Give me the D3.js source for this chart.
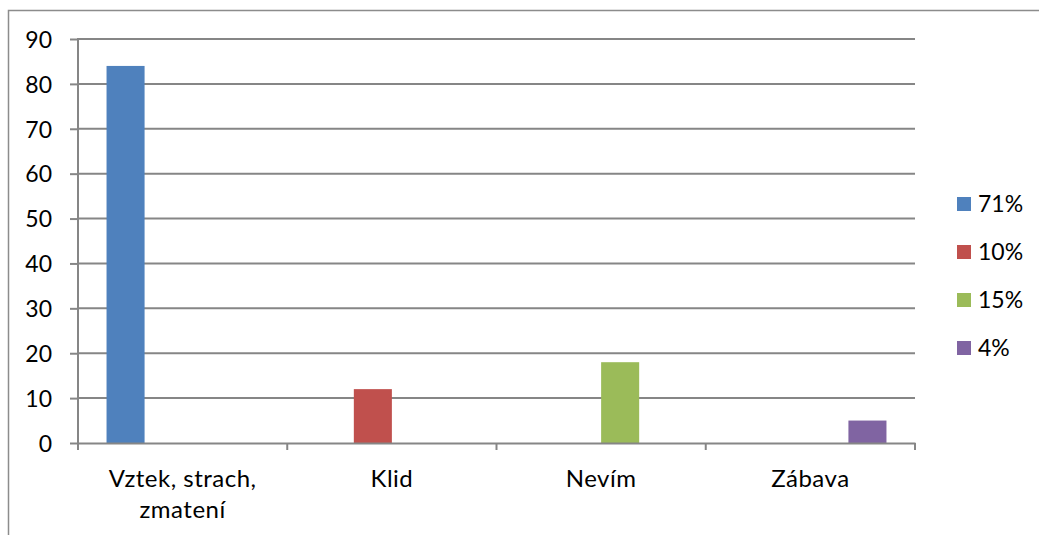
<!DOCTYPE html>
<html>
    <head>
        <meta charset="utf-8">
        <script type="text/javascript" src="https://d3js.org/d3.v7.min.js"></script>
        <style>
            body { margin: 0; background: #fff; }
            text { font-family: Lato, "Open Sans", sans-serif; fill: #000; }
        </style>
    </head>
    <body>
        <svg width="1039" height="535"></svg>
        <script type="text/javascript">
            // chart data
            const categories = ["Vztek, strach, zmatení", "Klid", "Nevím", "Zábava"];
            const seriesNames = ["71%", "10%", "15%", "4%"];
            // each series only has a value in one category
            const seriesValues = [
                [84, null, null, null],
                [null, 12, null, null],
                [null, null, 18, null],
                [null, null, null, 5]
            ];
            const yTicks = [0, 10, 20, 30, 40, 50, 60, 70, 80, 90];
            const colors = ["#4F81BD", "#C0504D", "#9BBB59", "#8064A2"];

            const svg = d3.select("svg");
            const plotLeft = 78, plotRight = 915, plotTop = 39, plotBottom = 443;
            const fontSize = "23px";

            // outer chart border (cut at image edge)
            svg.append("rect")
                .attr("x", 8.5).attr("y", 10.5)
                .attr("width", 1100).attr("height", 600)
                .style("fill", "none").style("stroke", "#8c8c8c").style("stroke-width", 1.5);

            const x0 = d3.scaleBand().domain(categories).range([plotLeft, plotRight]).padding(0);
            const x1 = d3.scaleBand().domain(seriesNames).range([0, x0.bandwidth()])
                .paddingInner(0).paddingOuter(0.75);
            const y = d3.scaleLinear().domain([0, 90]).range([plotBottom, plotTop]);

            // y axis ticks + labels
            const yAxis = svg.append("g")
                .attr("transform", "translate(" + plotLeft + ",0)")
                .call(d3.axisLeft(y).tickValues(yTicks).tickSize(8).tickPadding(18)
                    .tickFormat(d3.format("d")));
            yAxis.select(".domain").remove();
            yAxis.selectAll(".tick line").attr("stroke", "#868686").attr("stroke-width", 2);
            yAxis.selectAll(".tick text").style("font-size", fontSize).attr("dy", "0.36em");

            // gridlines
            svg.append("g").selectAll("line")
                .data(yTicks.filter(d => d > 0))
                .enter().append("line")
                .attr("x1", plotLeft).attr("x2", plotRight)
                .attr("y1", d => y(d)).attr("y2", d => y(d))
                .style("stroke", "#868686").style("stroke-width", 2);

            // y axis line
            svg.append("line")
                .attr("x1", plotLeft).attr("x2", plotLeft).attr("y1", plotTop - 1).attr("y2", plotBottom)
                .style("stroke", "#868686").style("stroke-width", 2);

            // bars
            const groups = svg.append("g").selectAll("g")
                .data(seriesNames)
                .enter().append("g")
                .style("fill", (d, i) => colors[i]);
            groups.selectAll("rect")
                .data((s, i) => seriesValues[i].map((v, j) => ({ s: s, cat: categories[j], v: v }))
                    .filter(d => d.v !== null))
                .enter().append("rect")
                .attr("x", d => x0(d.cat) + x1(d.s))
                .attr("width", x1.bandwidth())
                .attr("y", d => y(d.v))
                .attr("height", d => y(0) - y(d.v));

            // x axis
            const xAxis = svg.append("g")
                .attr("transform", "translate(0," + plotBottom + ")")
                .call(d3.axisBottom(x0).tickSize(0).tickFormat(""));
            xAxis.select(".domain").attr("stroke", "#868686").attr("stroke-width", 2);
            xAxis.selectAll(".tick").remove();
            // category separators
            svg.append("g").selectAll("line")
                .data(categories.map(c => x0(c)).concat([plotRight]))
                .enter().append("line")
                .attr("x1", d => d).attr("x2", d => d)
                .attr("y1", plotBottom).attr("y2", plotBottom + 7)
                .style("stroke", "#868686").style("stroke-width", 2);

            // category labels, wrapped like the original
            const labelLines = { "Vztek, strach, zmatení": ["Vztek, strach,", "zmatení"] };
            svg.append("g").selectAll("text")
                .data(categories)
                .enter().append("text")
                .attr("x", d => x0(d) + x0.bandwidth() / 2)
                .attr("y", 487)
                .attr("text-anchor", "middle")
                .style("font-size", "24px")
                .style("letter-spacing", "0.5px")
                .each(function (d) {
                    const lines = labelLines[d] || [d];
                    d3.select(this).selectAll("tspan")
                        .data(lines).enter().append("tspan")
                        .attr("x", x0(d) + x0.bandwidth() / 2)
                        .attr("dy", (l, i) => i === 0 ? 0 : 31)
                        .text(l => l);
                });

            // legend
            const legend = svg.append("g").selectAll("g")
                .data(seriesNames)
                .enter().append("g")
                .attr("transform", (d, i) => "translate(957," + (204 + i * 48) + ")");
            legend.append("rect")
                .attr("x", 0).attr("y", -7).attr("width", 14).attr("height", 14)
                .style("fill", (d, i) => colors[i]);
            legend.append("text")
                .attr("x", 21).attr("y", 8)
                .style("font-size", fontSize)
                .text(d => d);
        </script>
    </body>
</html>
